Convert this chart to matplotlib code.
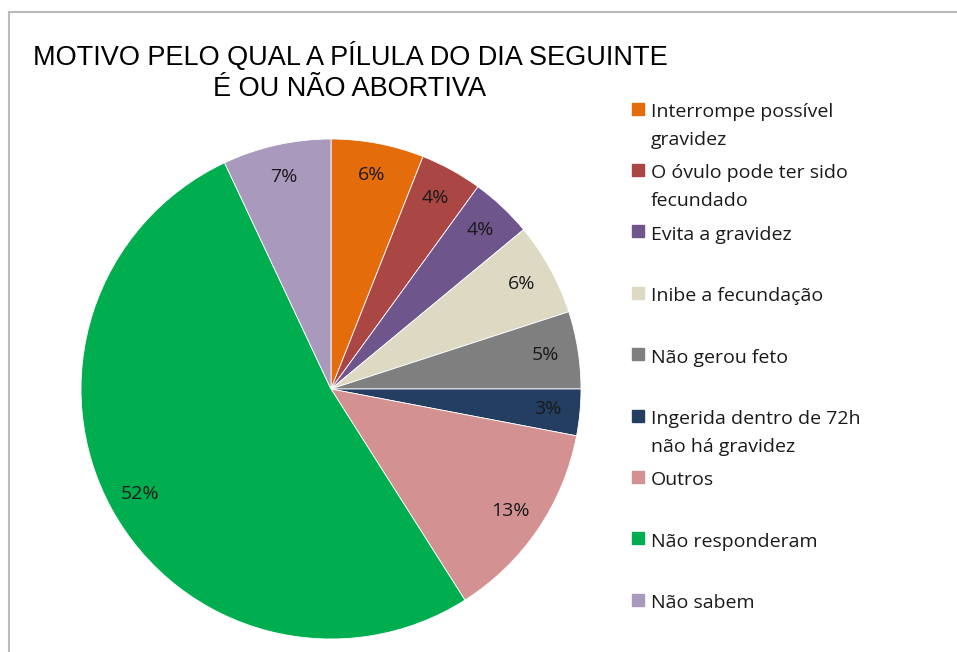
import matplotlib
matplotlib.use("Agg")
import matplotlib.pyplot as plt
from matplotlib.patches import Rectangle
from matplotlib.lines import Line2D

categories = ["Interrompe possível\ngravidez", "O óvulo pode ter sido\nfecundado",
              "Evita a gravidez", "Inibe a fecundação", "Não gerou feto",
              "Ingerida dentro de 72h\nnão há gravidez", "Outros",
              "Não responderam", "Não sabem"]
values = [6, 4, 4, 6, 5, 3, 13, 52, 7]
colors = ["#E46C0A", "#AA4643", "#6E568C", "#DDD9C3", "#7F7F7F",
          "#233E60", "#D39191", "#00AE4F", "#A99ABD"]
title_lines = ["MOTIVO PELO QUAL A PÍLULA DO DIA SEGUINTE", "É OU NÃO ABORTIVA"]

W, H = 957, 652
fig = plt.figure(figsize=(W / 100, H / 100), dpi=100)
fig.patch.set_facecolor("white")

# frame lines (top and left)
fig.add_artist(Line2D([9 / W, 1], [1 - 12 / H, 1 - 12 / H], color="#BBBBBB", lw=1.5))
fig.add_artist(Line2D([9 / W, 9 / W], [0, 1 - 12 / H], color="#BBBBBB", lw=1.5))

cx, cy, r = 331, 389, 250
ax = fig.add_axes([(cx - r) / W, (H - cy - r) / H, 2 * r / W, 2 * r / H])
wedges, texts, autotexts = ax.pie(values, colors=colors, startangle=90, counterclock=False,
                                  autopct=lambda p: f"{p:.0f}%", pctdistance=0.87,
                                  wedgeprops=dict(edgecolor="white", linewidth=0.6),
                                  textprops=dict(fontsize=14, color="#1a1a1a",
                                                 family=["Open Sans", "DejaVu Sans"]))
ax.set_aspect("auto")
ax.set_xlim(-1, 1)
ax.set_ylim(-1, 1)
ax.axis("off")

tfam = ["Liberation Sans", "DejaVu Sans"]
fig.text(350 / W, 1 - 65 / H, title_lines[0], ha="center", va="baseline", fontsize=19.5, family=tfam)
fig.text(350 / W, 1 - 96 / H, title_lines[1], ha="center", va="baseline", fontsize=19.5, family=tfam)

# legend
y0, dy, ms, lh = 108.5, 61.4, 12, 28
for i, (lab, col) in enumerate(zip(categories, colors)):
    y = y0 + i * dy
    fig.add_artist(Rectangle((632 / W, 1 - (y + ms / 2) / H), ms / W, ms / H, color=col,
                             transform=fig.transFigure))
    for k, line in enumerate(lab.split("\n")):
        fig.text(651 / W, 1 - (y + 8.5 + k * lh) / H, line, ha="left", va="baseline",
                 fontsize=14, family=["Open Sans", "DejaVu Sans"], color="#1a1a1a")

fig.savefig("out.png", dpi=100)
